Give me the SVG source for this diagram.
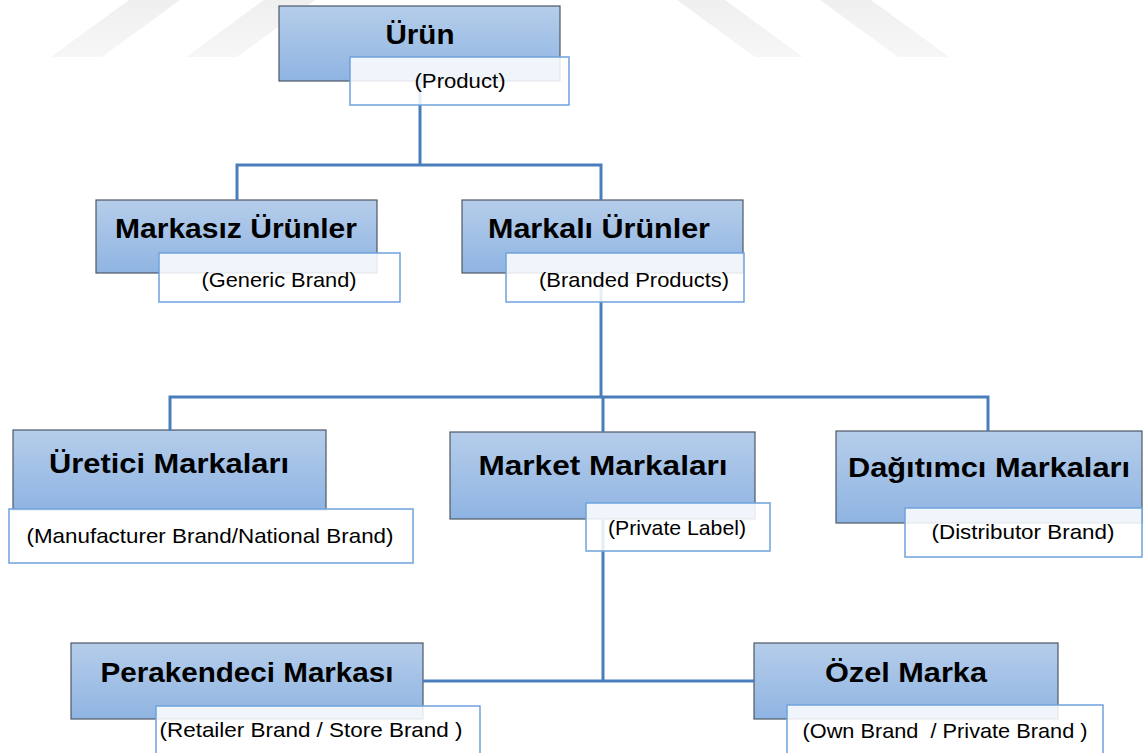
<svg xmlns="http://www.w3.org/2000/svg" width="1145" height="753" viewBox="0 0 1145 753">
  <defs>
    <linearGradient id="blueGrad" x1="0" y1="0" x2="0" y2="1">
      <stop offset="0" stop-color="#b5cdea"/>
      <stop offset="1" stop-color="#8fb4e2"/>
    </linearGradient>
    <linearGradient id="wmGrad" x1="0" y1="0" x2="0" y2="1">
      <stop offset="0" stop-color="#eaeaea"/>
      <stop offset="1" stop-color="#f4f4f4"/>
    </linearGradient>
    <style>
      .box { fill: url(#blueGrad); stroke: #4e5864; stroke-width: 1.2; }
      .lab { fill: #ffffff; fill-opacity: 0.86; stroke: #6fa3dd; stroke-width: 1.5; }
      .title { font-family: "Liberation Sans", Arial, sans-serif; font-weight: bold; font-size: 28px; fill: #000; text-anchor: middle; }
      .sub { font-family: "Liberation Sans", Arial, sans-serif; font-size: 21px; fill: #000; text-anchor: middle; }
      .conn { fill: none; stroke: #4a7ebb; stroke-width: 3; }
      .wm { fill: url(#wmGrad); opacity: 0.75; }
    </style>
  </defs>
  <rect width="1145" height="753" fill="#ffffff"/>

  <g id="watermark">
    <polygon class="wm" points="51,57 102,57 180,0 129,0"/>
    <polygon class="wm" points="186,57 237,57 315,0 264,0"/>
    <polygon class="wm" points="755,57 803,57 725,0 677,0"/>
    <polygon class="wm" points="898,57 949,57 871,0 820,0"/>
  </g>

  <g id="node-urun-box"><rect class="box" x="279" y="6" width="281" height="75"/></g>
  <g id="node-markasiz-box"><rect class="box" x="96" y="200" width="281" height="73"/></g>
  <g id="node-markali-box"><rect class="box" x="462" y="200" width="281" height="73"/></g>
  <g id="node-uretici-box"><rect class="box" x="13" y="430" width="313" height="80"/></g>
  <g id="node-market-box"><rect class="box" x="450" y="432" width="305" height="87"/></g>
  <g id="node-dagitimci-box"><rect class="box" x="836" y="431" width="306" height="92"/></g>
  <g id="node-perakendeci-box"><rect class="box" x="71" y="643" width="352" height="76"/></g>
  <g id="node-ozel-box"><rect class="box" x="754" y="643" width="304" height="76"/></g>

  <g id="connectors">
    <path class="conn" d="M420,81 V165 M237,200 V165 H601 V200"/>
    <path class="conn" d="M601,273 V397 M170,431 V397 H988 V431 M603,397 V432"/>
    <path class="conn" d="M603,519 V681 M423,681 H754"/>
  </g>

  <g id="node-urun">
    <rect class="lab" x="350" y="57" width="219" height="48"/>
    <text class="title" x="420" y="44" textLength="69" lengthAdjust="spacingAndGlyphs">Ürün</text>
    <text class="sub" x="460" y="88" textLength="91" lengthAdjust="spacingAndGlyphs">(Product)</text>
  </g>
  <g id="node-markasiz">
    <rect class="lab" x="159" y="253" width="241" height="49"/>
    <text class="title" x="236" y="238" textLength="242" lengthAdjust="spacingAndGlyphs">Markasız Ürünler</text>
    <text class="sub" x="279" y="287" textLength="155" lengthAdjust="spacingAndGlyphs">(Generic Brand)</text>
  </g>
  <g id="node-markali">
    <rect class="lab" x="506" y="253" width="238" height="49"/>
    <text class="title" x="599" y="238" textLength="222" lengthAdjust="spacingAndGlyphs">Markalı Ürünler</text>
    <text class="sub" x="634" y="287" textLength="190" lengthAdjust="spacingAndGlyphs">(Branded Products)</text>
  </g>
  <g id="node-uretici">
    <rect class="lab" x="9" y="509" width="404" height="54"/>
    <text class="title" x="169" y="473" textLength="240" lengthAdjust="spacingAndGlyphs">Üretici Markaları</text>
    <text class="sub" x="210" y="543" textLength="367" lengthAdjust="spacingAndGlyphs">(Manufacturer Brand/National Brand)</text>
  </g>
  <g id="node-market">
    <rect class="lab" x="586" y="503" width="184" height="48"/>
    <text class="title" x="603" y="475" textLength="249" lengthAdjust="spacingAndGlyphs">Market Markaları</text>
    <text class="sub" x="677" y="535" textLength="138" lengthAdjust="spacingAndGlyphs">(Private Label)</text>
  </g>
  <g id="node-dagitimci">
    <rect class="lab" x="905" y="508" width="237" height="49"/>
    <text class="title" x="989" y="477" textLength="282" lengthAdjust="spacingAndGlyphs">Dağıtımcı Markaları</text>
    <text class="sub" x="1023" y="539" textLength="183" lengthAdjust="spacingAndGlyphs">(Distributor Brand)</text>
  </g>
  <g id="node-perakendeci">
    <rect class="lab" x="156" y="706" width="324" height="52"/>
    <text class="title" x="247" y="682" textLength="293" lengthAdjust="spacingAndGlyphs">Perakendeci Markası</text>
    <text class="sub" x="311" y="737" textLength="303" lengthAdjust="spacingAndGlyphs">(Retailer Brand / Store Brand )</text>
  </g>
  <g id="node-ozel">
    <rect class="lab" x="787" y="705" width="316" height="53"/>
    <text class="title" x="906" y="682" textLength="162" lengthAdjust="spacingAndGlyphs">Özel Marka</text>
    <text class="sub" x="945" y="738" textLength="285" lengthAdjust="spacingAndGlyphs" xml:space="preserve">(Own Brand  / Private Brand )</text>
  </g>
</svg>
